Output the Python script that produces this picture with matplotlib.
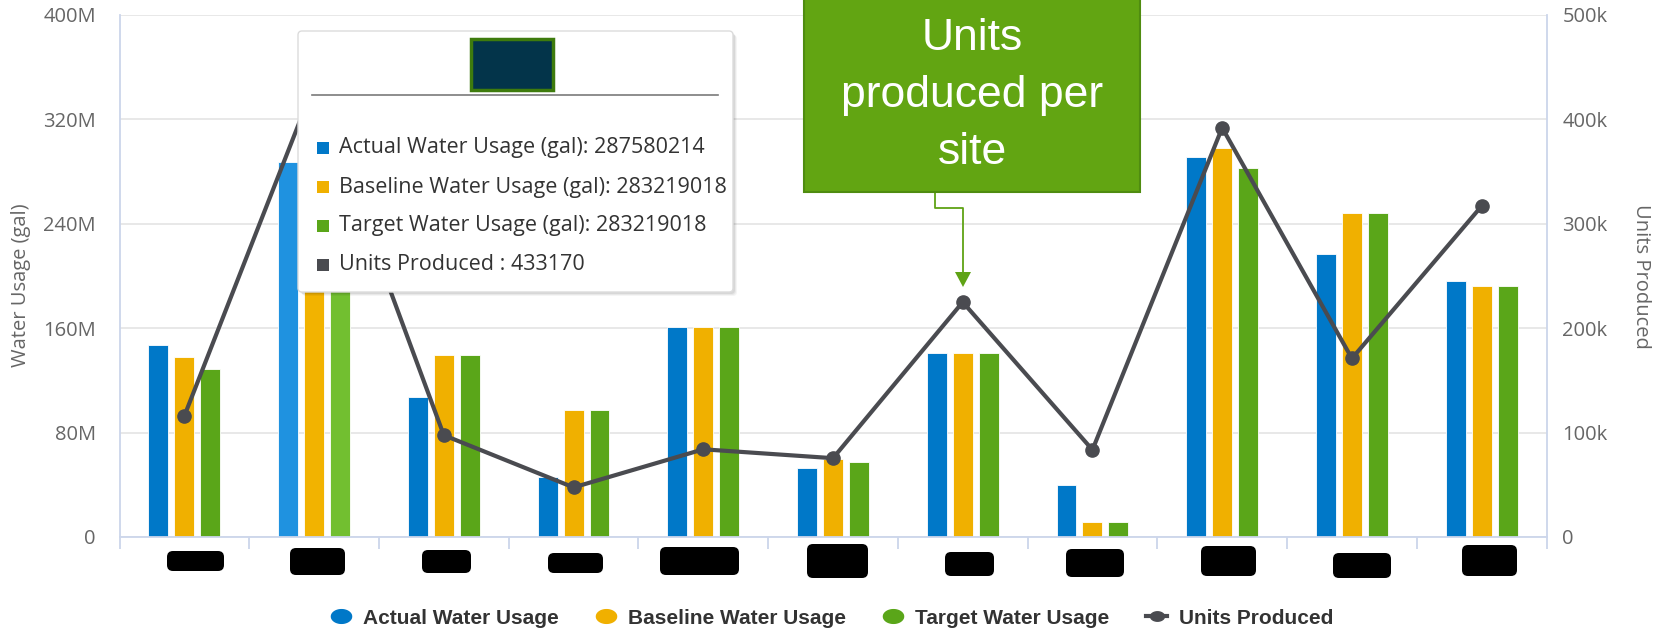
import matplotlib
matplotlib.use("Agg")
import matplotlib.pyplot as plt
import matplotlib.transforms as mtransforms
from matplotlib.patches import FancyBboxPatch, Rectangle, Polygon
from matplotlib.lines import Line2D
from matplotlib.path import Path
from matplotlib.ticker import FixedLocator, FixedFormatter
import numpy as np

# ---------------- data ----------------
categories = ["Site 1", "Site 2", "Site 3", "Site 4", "Site 5", "Site 6",
              "Site 7", "Site 8", "Site 9", "Site 10", "Site 11"]  # redacted in the source
actual_gal = [147.5e6, 287580214, 107.5e6, 46e6, 161e6, 52.5e6, 141e6, 39.5e6, 291e6, 217e6, 196.5e6]
baseline_gal = [138e6, 283219018, 139.5e6, 97.2e6, 161e6, 60e6, 141e6, 11.5e6, 298e6, 248e6, 192.6e6]
target_gal = [128.5e6, 283219018, 139.5e6, 97.2e6, 161e6, 57.8e6, 141e6, 11.5e6, 282.7e6, 248e6, 192.6e6]
units_produced = [116e3, 433170, 97.5e3, 47.5e3, 84e3, 75.5e3, 225e3, 83.5e3, 392e3, 171e3, 317e3]

left_ticks = [0, 80e6, 160e6, 240e6, 320e6, 400e6]
left_tick_labels = ["0", "80M", "160M", "240M", "320M", "400M"]
right_ticks = [0, 100e3, 200e3, 300e3, 400e3, 500e3]
right_tick_labels = ["0", "100k", "200k", "300k", "400k", "500k"]
series_names = ["Actual Water Usage", "Baseline Water Usage", "Target Water Usage", "Units Produced"]
hover_index = 1
callout_lines = ["Units", "produced per", "site"]

# ---------------- style ----------------
W, H = 1655, 629
C_BLUE, C_YELLOW, C_GREEN, C_GRAY = "#0078c8", "#f0b000", "#5aa619", "#4a4b50"
H_BLUE, H_YELLOW, H_GREEN = "#1f92e0", "#f2b300", "#72bf30"
AXIS_C = "#ccd6eb"
TICK_FONT = "Open Sans"

fig = plt.figure(figsize=(W / 100, H / 100), dpi=100)
pix = mtransforms.Affine2D().scale(1, -1).translate(0, H).scale(1.0 / W, 1.0 / H) + fig.transFigure

ax = fig.add_axes([119.5 / W, 1 - 537 / H, 1427 / W, 522 / H])
ax2 = ax.twinx()

x = np.arange(len(categories))
bw, off = 0.154, 0.2

def cols(normal, hover):
    return [hover if i == hover_index else normal for i in range(len(categories))]

ax.bar(x - off, actual_gal, bw, color=cols(C_BLUE, H_BLUE), edgecolor="white", linewidth=0.6, zorder=2)
ax.bar(x, baseline_gal, bw, color=cols(C_YELLOW, H_YELLOW), edgecolor="white", linewidth=0.6, zorder=2)
ax.bar(x + off, target_gal, bw, color=cols(C_GREEN, H_GREEN), edgecolor="white", linewidth=0.6, zorder=2)

ax2.plot(x, units_produced, color=C_GRAY, lw=3, marker="o", ms=9.5, zorder=3, solid_joinstyle="round")

ax.set_xlim(-0.5, len(categories) - 0.5)
ax.set_ylim(0, 400e6)
ax2.set_ylim(0, 500e3)

ax.yaxis.set_major_locator(FixedLocator(left_ticks))
ax.yaxis.set_major_formatter(FixedFormatter(left_tick_labels))
ax2.yaxis.set_major_locator(FixedLocator(right_ticks))
ax2.yaxis.set_major_formatter(FixedFormatter(right_tick_labels))

ax.yaxis.grid(True, color="#e6e6e6", lw=1.3)
ax.set_axisbelow(True)

ax.set_xticks(x)
ax.set_xticklabels([""] * len(categories))
ax.set_xticks(np.arange(-0.5, len(categories)), minor=True)
ax.tick_params(axis="x", which="major", length=0)
ax.tick_params(axis="x", which="minor", length=8.5, width=1.3, color=AXIS_C, direction="out")

ax.tick_params(axis="y", length=0, pad=17, labelsize=14.5, labelcolor="#666666")
ax2.tick_params(axis="y", length=0, pad=11.5, labelsize=14.5, labelcolor="#666666")
for lab in ax.get_yticklabels() + ax2.get_yticklabels():
    lab.set_fontfamily(TICK_FONT)

ax.spines["top"].set_visible(False)
for s in ["left", "right", "bottom"]:
    ax.spines[s].set_color(AXIS_C)
    ax.spines[s].set_linewidth(1.3)
for s in ax2.spines.values():
    s.set_visible(False)
ax2.patch.set_visible(False)

fig.text(21, 285, "Water Usage (gal)", transform=pix, rotation=90, ha="center", va="center",
         fontsize=14.5, color="#666666", family=TICK_FONT)
fig.text(1641, 276, "Units Produced", transform=pix, rotation=270, ha="center", va="center",
         fontsize=14.5, color="#666666", family=TICK_FONT)

# redacted x labels (black blobs)
blobs = [(167, 224, 551, 571), (290, 345, 548, 575), (422, 471, 550, 573), (548, 603, 553, 573),
         (660, 739, 547, 575), (807, 868, 544, 578), (945, 994, 552, 576), (1066, 1124, 549, 577),
         (1201, 1256, 546, 576), (1333, 1391, 553, 578), (1462, 1517, 545, 576)]
for (x0, x1, y0, y1) in blobs:
    fig.patches.append(FancyBboxPatch((x0 + 3, y0 + 3), x1 - x0 - 6, y1 - y0 - 6,
                                      boxstyle="round,pad=3,rounding_size=6", transform=pix,
                                      fc="black", ec="black", lw=0, zorder=5))

# ---------------- tooltip ----------------
tx0, ty0, tw, th = 298, 31, 435, 261
for k, a in [(4, 0.04), (3, 0.05), (2, 0.07)]:
    fig.patches.append(FancyBboxPatch((tx0 + k, ty0 + k), tw, th, boxstyle="round,pad=0,rounding_size=4",
                                      transform=pix, fc="black", ec="none", alpha=a, zorder=10))
fig.patches.append(FancyBboxPatch((tx0, ty0), tw, th, boxstyle="round,pad=0,rounding_size=4",
                                  transform=pix, fc="white", ec="#dcdcdc", lw=1, zorder=11))
fig.patches.append(Rectangle((471, 39), 82, 51, transform=pix, fc="#03344a", ec="#3e7b0d", lw=2.5, zorder=12))
fig.lines.append(Line2D([312, 718], [95, 95], transform=pix, color="#7a7a7a", lw=1.2, zorder=12))
rows = [
    (C_BLUE, f"Actual Water Usage (gal): {actual_gal[hover_index]:.0f}"),
    (C_YELLOW, f"Baseline Water Usage (gal): {baseline_gal[hover_index]:.0f}"),
    (C_GREEN, f"Target Water Usage (gal): {target_gal[hover_index]:.0f}"),
    (C_GRAY, f"Units Produced : {units_produced[hover_index]:.0f}"),
]
for i, (c, t) in enumerate(rows):
    yc = 148 + 39 * i
    fig.patches.append(Rectangle((317, yc - 6), 12, 12, transform=pix, fc=c, ec="none", zorder=12))
    fig.text(339, yc, t, transform=pix, ha="left", va="center", fontsize=15.5, color="#333333",
             family=TICK_FONT, zorder=12)

# ---------------- callout ----------------
fig.patches.append(Rectangle((804, -3), 336, 195, transform=pix, fc="#62a512", ec="#4f8c10", lw=1.5, zorder=13))
for i, t in enumerate(callout_lines):
    fig.text(972, 39 + 57 * i, t, transform=pix, ha="center", va="center", fontsize=32, color="white",
             family="Liberation Sans", zorder=14)
fig.lines.append(Line2D([935, 935, 963, 963], [193, 208, 208, 274], transform=pix, color="#5fa315", lw=1.3, zorder=13))
fig.patches.append(Polygon([(955, 272), (971, 272), (963, 287)], closed=True, transform=pix,
                           fc="#5fa315", ec="none", zorder=13))

# ---------------- legend ----------------
th_ = np.linspace(0, 2 * np.pi, 64)
ell = Path(np.c_[np.cos(th_), 0.68 * np.sin(th_)], closed=True)
handles = [
    Line2D([], [], ls="none", marker=ell, ms=14.5, mfc=C_BLUE, mec=C_BLUE),
    Line2D([], [], ls="none", marker=ell, ms=14.5, mfc=C_YELLOW, mec=C_YELLOW),
    Line2D([], [], ls="none", marker=ell, ms=14.5, mfc=C_GREEN, mec=C_GREEN),
    Line2D([], [], color=C_GRAY, lw=3, marker=ell, ms=10, mfc=C_GRAY, mec=C_GRAY),
]
leg = fig.legend(handles, series_names, loc="center", bbox_to_anchor=(832 / W, 1 - 618 / H), ncol=4,
                 frameon=False, prop=dict(family="Liberation Sans", weight="bold", size=15),
                 handlelength=1.0, handletextpad=0.56, columnspacing=1.76, labelcolor="#333333")

fig.savefig("out.png", dpi=100)
